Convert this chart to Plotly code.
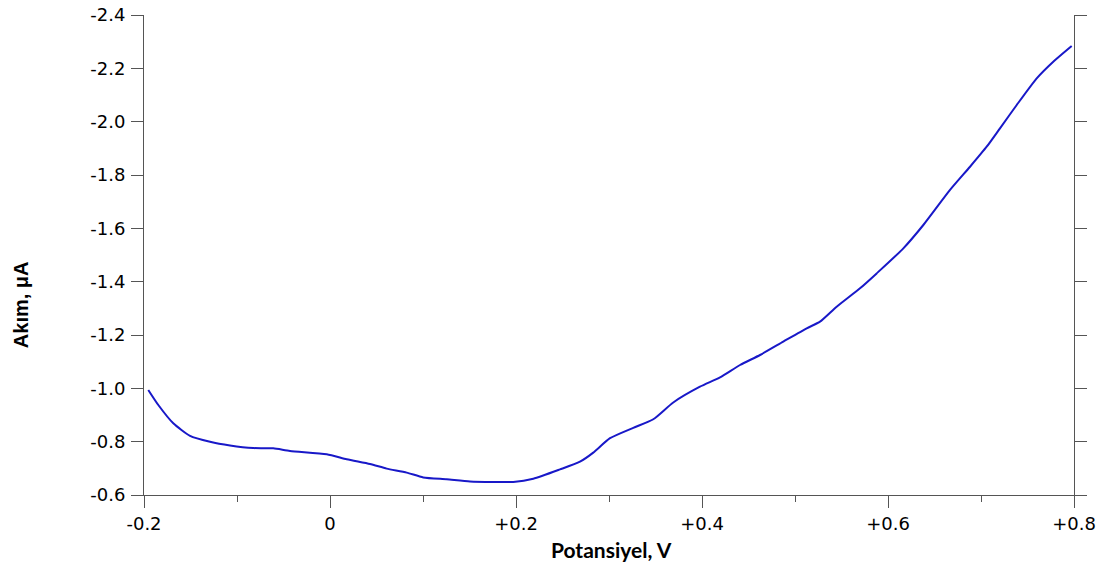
import plotly.graph_objects as go

# Data
potential_V = [-0.1954, -0.1846, -0.1685, -0.1505, -0.129, -0.1075, -0.0825, -0.061, -0.043,
               -0.0035, 0.018, 0.043, 0.061, 0.0825, 0.1003, 0.1255, 0.1505, 0.1756, 0.1971,
               0.2186, 0.2473, 0.2688, 0.2831, 0.3011, 0.3261, 0.3476, 0.3691, 0.3978, 0.4194,
               0.4409, 0.4624, 0.4874, 0.5126, 0.5269, 0.5448, 0.5699, 0.5878, 0.6165, 0.6380,
               0.6667, 0.6882, 0.7061, 0.7204, 0.7384, 0.7599, 0.7777, 0.7975]
current_uA = [-0.994, -0.9375, -0.869, -0.822, -0.800, -0.786, -0.776, -0.775, -0.765,
              -0.753, -0.734, -0.716, -0.699, -0.684, -0.666, -0.659, -0.651, -0.649, -0.649,
              -0.661, -0.696, -0.725, -0.759, -0.813, -0.852, -0.884, -0.947, -1.006, -1.041,
              -1.0875, -1.125, -1.175, -1.225, -1.250, -1.306, -1.375, -1.431, -1.525, -1.6125,
              -1.744, -1.831, -1.906, -1.975, -2.0625, -2.1625, -2.225, -2.284]

x_tickvals = [-0.2, 0.0, 0.2, 0.4, 0.6, 0.8]
x_ticktext = ["-0.2", "0", "+0.2", "+0.4", "+0.6", "+0.8"]
y_tickvals = [-0.6, -0.8, -1.0, -1.2, -1.4, -1.6, -1.8, -2.0, -2.2, -2.4]
y_ticktext = ["-0.6", "-0.8", "-1.0", "-1.2", "-1.4", "-1.6", "-1.8", "-2.0", "-2.2", "-2.4"]

x_title = "Potansiyel, V"
y_title = "Akım, μA"

axis_color = "#555555"
tick_font = dict(family="DejaVu Sans", size=18, color="black")

fig = go.Figure()
fig.add_trace(go.Scatter(x=potential_V, y=current_uA, mode="lines",
                         line=dict(color="#1818c8", width=2, shape="spline", smoothing=0.6),
                         showlegend=False))

fig.update_layout(
    width=1105, height=562,
    margin=dict(l=144, r=31, t=15, b=67, autoexpand=False),
    paper_bgcolor="white", plot_bgcolor="white",
    xaxis=dict(range=[-0.2, 0.8], tickmode="array", tickvals=x_tickvals, ticktext=x_ticktext,
               ticks="outside", ticklen=12, tickwidth=1, tickcolor=axis_color,
               showline=True, linecolor=axis_color, linewidth=1, showgrid=False, zeroline=False,
               tickfont=tick_font, automargin=False, ticklabeloverflow="allow",
               minor=dict(dtick=0.1, tick0=-0.2, ticks="outside", ticklen=6,
                          tickcolor=axis_color, showgrid=False)),
    xaxis2=dict(range=[-0.2, 0.8], overlaying="x", side="top", matches="x",
                tickmode="linear", tick0=-0.2, dtick=0.1, ticks="outside", ticklen=5,
                tickcolor=axis_color, showticklabels=False, showline=True, automargin=False,
                linecolor=axis_color, linewidth=1, showgrid=False, zeroline=False),
    yaxis=dict(range=[-0.6, -2.4], tickmode="array", tickvals=y_tickvals, ticktext=y_ticktext,
               ticks="outside", ticklen=12, tickwidth=1, tickcolor=axis_color,
               showline=True, linecolor=axis_color, linewidth=1, mirror="ticks",
               showgrid=False, zeroline=False, tickfont=tick_font, automargin=False,
               ticklabelstandoff=2, ticklabeloverflow="allow"),
    annotations=[
        dict(text="<b>" + x_title + "</b>", xref="paper", yref="paper", x=0.503, y=-0.1125,
             xanchor="center", yanchor="middle", showarrow=False,
             font=dict(family="Lato", size=21, color="black")),
        dict(text="<b>" + y_title + "</b>", xref="paper", yref="paper", x=-0.132, y=0.396,
             xanchor="center", yanchor="middle", showarrow=False, textangle=-90,
             font=dict(family="Liberation Sans", size=20, color="black")),
    ],
)

fig.write_html("out.html", config={"displayModeBar": False},
               post_script="document.body.style.margin='0';")
